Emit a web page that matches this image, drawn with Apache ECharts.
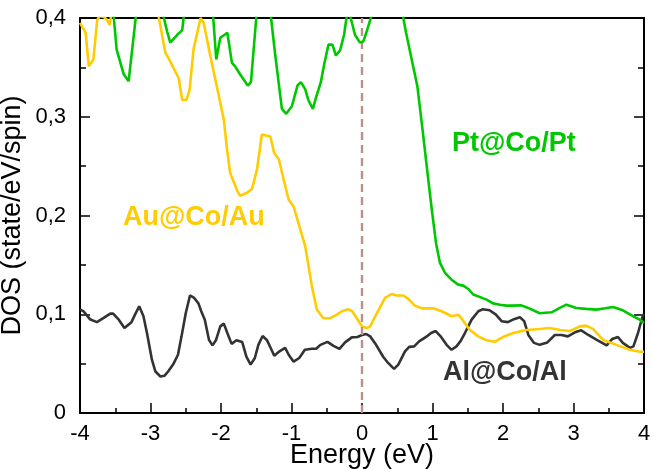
<!DOCTYPE html>
<html>
<head>
<meta charset="utf-8">
<script src="https://cdn.jsdelivr.net/npm/echarts@6/dist/echarts.min.js"></script>
<style>
html,body{margin:0;padding:0;background:#fff;}
#chart{width:653px;height:469px;}
</style>
</head>
<body>
<div id="chart"></div>
<script>
// Energy ticks
const xTicks = [-4, -3, -2, -1, 0, 1, 2, 3, 4];
const yTicks = [0, 0.1, 0.2, 0.3, 0.4];

// Al@Co/Al (black)
const alEnergy = [-4.00,-3.95,-3.86,-3.76,-3.67,-3.57,-3.53,-3.45,-3.37,-3.27,-3.22,-3.16,-3.10,-3.05,-2.98,-2.93,-2.86,-2.80,-2.75,-2.68,-2.61,-2.56,-2.50,-2.44,-2.38,-2.32,-2.28,-2.23,-2.17,-2.12,-2.07,-2.01,-1.96,-1.91,-1.85,-1.78,-1.70,-1.64,-1.58,-1.52,-1.47,-1.41,-1.35,-1.29,-1.245,-1.17,-1.09,-1.04,-0.97,-0.89,-0.81,-0.71,-0.65,-0.59,-0.49,-0.405,-0.32,-0.24,-0.145,-0.065,0.00,0.06,0.115,0.20,0.30,0.37,0.455,0.515,0.61,0.67,0.74,0.81,0.92,0.98,1.045,1.115,1.20,1.27,1.34,1.40,1.46,1.555,1.65,1.71,1.81,1.90,1.98,2.07,2.155,2.24,2.30,2.36,2.44,2.52,2.63,2.735,2.83,2.92,3.02,3.11,3.21,3.33,3.47,3.55,3.63,3.70,3.80,3.85,3.915,3.98,4.00];
const alDos = [0.105,0.103,0.095,0.092,0.096,0.1006,0.1006,0.0945,0.086,0.092,0.0996,0.108,0.098,0.081,0.054,0.042,0.037,0.0378,0.042,0.049,0.059,0.0776,0.101,0.119,0.1165,0.111,0.103,0.0945,0.074,0.0685,0.074,0.0877,0.0905,0.081,0.070,0.0736,0.072,0.057,0.049,0.0557,0.069,0.078,0.074,0.065,0.058,0.0625,0.066,0.059,0.052,0.0557,0.064,0.065,0.065,0.069,0.072,0.068,0.065,0.0715,0.0766,0.077,0.079,0.080,0.0776,0.069,0.057,0.0507,0.0446,0.049,0.0624,0.067,0.0675,0.0725,0.0776,0.081,0.083,0.0776,0.069,0.064,0.0675,0.073,0.081,0.0945,0.103,0.105,0.104,0.0996,0.093,0.092,0.095,0.097,0.093,0.079,0.071,0.069,0.0715,0.079,0.079,0.0776,0.0817,0.0837,0.079,0.074,0.0685,0.075,0.077,0.071,0.066,0.0675,0.081,0.098,0.100];

// Au@Co/Au (yellow)
const auEnergy = [-4.00,-3.98,-3.92,-3.875,-3.81,-3.756,-3.72,-3.66,-3.615,-3.58,-3.54,-3.40,-3.10,-2.95,-2.88,-2.79,-2.72,-2.60,-2.55,-2.49,-2.445,-2.39,-2.29,-2.245,-2.15,-2.06,-1.96,-1.915,-1.87,-1.775,-1.73,-1.63,-1.56,-1.49,-1.42,-1.36,-1.30,-1.245,-1.18,-1.11,-1.04,-0.97,-0.806,-0.71,-0.64,-0.547,-0.45,-0.357,-0.286,-0.19,-0.14,-0.074,0.00,0.07,0.115,0.21,0.327,0.42,0.49,0.586,0.657,0.75,0.847,1.01,1.13,1.27,1.365,1.41,1.46,1.53,1.65,1.77,1.885,2.00,2.145,2.33,2.52,2.66,2.81,2.95,3.09,3.18,3.28,3.42,3.61,3.80,3.94,4.00];
const auDos = [0.395,0.393,0.385,0.351,0.358,0.398,0.402,0.401,0.398,0.393,0.41,0.46,0.50,0.43,0.400,0.365,0.356,0.339,0.317,0.317,0.3275,0.368,0.400,0.395,0.361,0.331,0.297,0.267,0.243,0.226,0.220,0.223,0.227,0.2465,0.282,0.281,0.280,0.263,0.257,0.236,0.216,0.209,0.169,0.128,0.1047,0.096,0.096,0.0996,0.103,0.105,0.103,0.096,0.0877,0.086,0.0877,0.101,0.1165,0.1205,0.119,0.119,0.1155,0.1087,0.106,0.106,0.103,0.098,0.0996,0.096,0.091,0.084,0.0776,0.0736,0.072,0.077,0.081,0.084,0.085,0.086,0.084,0.083,0.0877,0.0885,0.085,0.074,0.069,0.064,0.062,0.062];

// Pt@Co/Pt (green)
const ptEnergy = [-4.00,-3.80,-3.60,-3.52,-3.48,-3.38,-3.31,-3.26,-3.21,-3.10,-2.95,-2.81,-2.765,-2.72,-2.62,-2.55,-2.53,-2.45,-2.25,-2.11,-2.067,-2.01,-1.91,-1.845,-1.80,-1.73,-1.62,-1.575,-1.50,-1.44,-1.36,-1.29,-1.23,-1.136,-1.075,-0.995,-0.915,-0.867,-0.806,-0.76,-0.697,-0.65,-0.584,-0.537,-0.476,-0.42,-0.37,-0.31,-0.254,-0.22,-0.19,-0.16,-0.10,-0.027,0.02,0.068,0.125,0.20,0.40,0.55,0.586,0.625,0.705,0.785,0.847,0.918,0.99,1.05,1.106,1.177,1.27,1.365,1.436,1.507,1.578,1.767,1.86,1.956,2.05,2.12,2.26,2.357,2.52,2.69,2.806,2.90,3.04,3.18,3.326,3.45,3.56,3.70,3.845,3.94,4.00];
const ptDos = [0.48,0.50,0.45,0.400,0.368,0.343,0.336,0.368,0.400,0.46,0.45,0.400,0.3866,0.375,0.383,0.3877,0.400,0.45,0.47,0.400,0.358,0.380,0.385,0.3546,0.351,0.343,0.3316,0.335,0.400,0.45,0.45,0.400,0.362,0.308,0.303,0.3106,0.3316,0.335,0.328,0.3167,0.308,0.320,0.335,0.353,0.373,0.373,0.362,0.3674,0.383,0.400,0.42,0.400,0.383,0.375,0.3765,0.3866,0.400,0.44,0.48,0.43,0.400,0.385,0.358,0.331,0.294,0.250,0.206,0.172,0.152,0.142,0.135,0.130,0.129,0.1256,0.120,0.1148,0.111,0.1097,0.1087,0.1087,0.109,0.1064,0.101,0.102,0.1064,0.1097,0.1064,0.1054,0.1047,0.106,0.1074,0.104,0.098,0.0945,0.091];

const zip = (xs, ys) => xs.map((x, i) => [x, ys[i]]);

const FONT = '"Liberation Sans", Arial, sans-serif';
const fmtY = v => (v === 0 ? '0' : v.toFixed(1).replace('.', ','));

const chart = echarts.init(document.getElementById('chart'), null, {renderer: 'canvas'});
chart.setOption({
  animation: false,
  backgroundColor: '#ffffff',
  grid: {left: 80, right: 9, top: 18, bottom: 56, containLabel: false, outerBoundsMode: 'none'},
  xAxis: [{
    type: 'value', min: xTicks[0], max: xTicks[xTicks.length - 1], interval: 1,
    name: 'Energy (eV)', nameLocation: 'middle', nameGap: 29, nameMoveOverlap: false,
    nameTextStyle: {fontFamily: FONT, fontSize: 27, color: '#000'},
    axisLine: {show: true, onZero: false, lineStyle: {color: '#000', width: 2}},
    axisTick: {show: true, inside: true, length: 10, lineStyle: {color: '#000', width: 1.5}},
    minorTick: {show: true, splitNumber: 2, length: 5, lineStyle: {color: '#000', width: 1.5}},
    axisLabel: {fontFamily: FONT, fontSize: 22, color: '#000', margin: 10},
    splitLine: {show: false}
  }, {
    type: 'value', position: 'top', min: -4, max: 4, interval: 1,
    axisLine: {show: true, onZero: false, lineStyle: {color: '#000', width: 2}},
    axisTick: {show: false}, axisLabel: {show: false}, splitLine: {show: false}
  }],
  yAxis: [{
    type: 'value', min: yTicks[0], max: yTicks[yTicks.length - 1], interval: 0.1,
    name: 'DOS (state/eV/spin)', nameLocation: 'middle', nameGap: 54, nameMoveOverlap: false,
    nameTextStyle: {fontFamily: FONT, fontSize: 27, color: '#000'},
    axisLine: {show: true, onZero: false, lineStyle: {color: '#000', width: 2}},
    axisTick: {show: true, inside: true, length: 10, lineStyle: {color: '#000', width: 1.5}},
    minorTick: {show: true, splitNumber: 2, length: 6, lineStyle: {color: '#000', width: 1.5}},
    axisLabel: {fontFamily: FONT, fontSize: 22, color: '#000', margin: 14, formatter: fmtY},
    splitLine: {show: false}
  }, {
    type: 'value', position: 'right', min: 0, max: 0.4, interval: 0.1,
    axisLine: {show: true, onZero: false, lineStyle: {color: '#000', width: 2}},
    axisTick: {show: true, inside: true, length: 10, lineStyle: {color: '#000', width: 1.5}},
    minorTick: {show: true, splitNumber: 2, length: 6, lineStyle: {color: '#000', width: 1.5}},
    axisLabel: {show: false}, splitLine: {show: false}
  }],
  series: [
    {
      name: 'Al@Co/Al', type: 'line', data: zip(alEnergy, alDos), showSymbol: false,
      clip: true, lineStyle: {color: '#333333', width: 2.6}, z: 3,
      markLine: {
        silent: true, symbol: ['none', 'none'], label: {show: false},
        lineStyle: {color: '#bc8f8f', width: 2.4, type: [8, 5]},
        data: [{xAxis: 0}]
      }
    },
    {
      name: 'Au@Co/Au', type: 'line', data: zip(auEnergy, auDos), showSymbol: false,
      clip: true, lineStyle: {color: '#ffcc00', width: 2.6}, z: 4
    },
    {
      name: 'Pt@Co/Pt', type: 'line', data: zip(ptEnergy, ptDos), showSymbol: false,
      clip: true, lineStyle: {color: '#00c800', width: 2.6}, z: 5
    }
  ],
  graphic: [
    {type: 'text', left: 452, top: 130, style: {text: 'Pt@Co/Pt', fill: '#00c800', font: 'bold 27px ' + FONT}},
    {type: 'text', left: 123, top: 204, style: {text: 'Au@Co/Au', fill: '#ffcc00', font: 'bold 27px ' + FONT}},
    {type: 'text', left: 443, top: 359, style: {text: 'Al@Co/Al', fill: '#333333', font: 'bold 27px ' + FONT}}
  ]
});
</script>
</body>
</html>
